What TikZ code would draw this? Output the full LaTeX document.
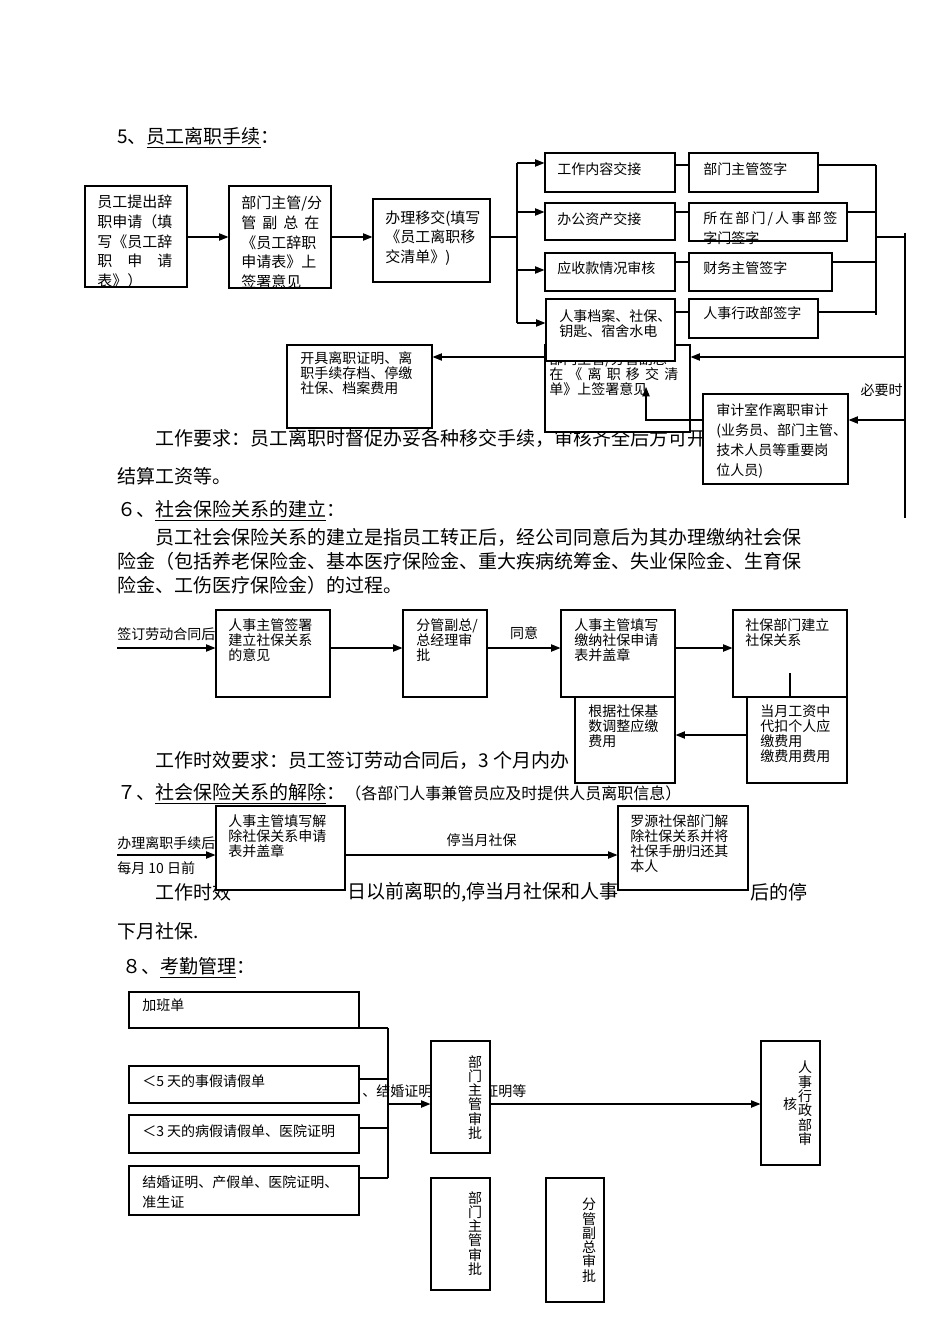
\documentclass[tikz,border=0pt]{standalone}
\usepackage{fontspec}
\setmainfont{Noto Sans CJK SC}
\usepackage{tikz}
\usetikzlibrary{positioning}
\usetikzlibrary{fit}
\usetikzlibrary{arrows.meta}
\newlength{\px}\setlength{\px}{0.75pt}
\newcommand{\jl}[2]{\makebox[#1\px][s]{#2}}
\tikzset{
  box/.style={draw, line width=0.9pt, fill=white, inner sep=0pt},
  txt/.style={inner sep=0pt, anchor=north west, align=left, font=\fontsize{11.25}{14.7}\selectfont},
  small/.style={inner sep=0pt, anchor=north west, align=left, font=\fontsize{10.5}{15}\selectfont},
  tight/.style={inner sep=0pt, anchor=north west, align=left, font=\fontsize{10.5}{11.3}\selectfont},
  vtxt/.style={inner sep=0pt, anchor=north, align=center, font=\fontsize{10.5}{10.7}\selectfont},
  body/.style={inner sep=0pt, anchor=west, font=\fontsize{14.25}{18}\selectfont},
  lbl/.style={inner sep=0pt, font=\fontsize{10.5}{12}\selectfont},
  arr/.style={-{Triangle[length=7pt,width=5.5pt]}, line width=0.8pt},
  link/.style={line width=0.8pt}
}
\begin{document}
\begin{tikzpicture}[x=0.75pt,y=-0.75pt]
        \fill[white] (0,0) rectangle (950,1344);
        \useasboundingbox (0,0) rectangle (950,1344);

        \node[body] (h5) at (117,138) {5、\underline{员工离职手续}：};
        \node[body] (req5) at (155,438) {工作要求：员工离职时督促办妥各种移交手续，审核齐全后方可开};
        \node[body] (req5b) at (117,476) {结算工资等。};
        \node[body] (h6) at (117,511) {６、\underline{社会保险关系的建立}：};
        \node[body] (p6a) at (155,537) {员工社会保险关系的建立是指员工转正后，经公司同意后为其办理缴纳社会保};
        \node[body] (p6b) at (117,561) {险金（包括养老保险金、基本医疗保险金、重大疾病统筹金、失业保险金、生育保};
        \node[body] (p6c) at (117,585) {险金、工伤医疗保险金）的过程。};
        \node[body] (req6) at (155,760) {工作时效要求：员工签订劳动合同后，3 个月内办};
        \node[body] (h7) at (117,794) {７、\underline{社会保险关系的解除}：{\fontsize{12}{14}\selectfont（各部门人事兼管员应及时提供人员离职信息）}};
        \node[body] (req7a) at (155,892) {工作时效};
        \node[body] (req7b) at (347,892) {日以前离职的,停当月社保和人事};
        \node[body] (req7c) at (750,892) {后的停};
        \node[body] (req7d) at (117,931) {下月社保.};
        \node[body] (h8) at (122,968) {８、\underline{考勤管理}：};

        % 5
        \node[box, fit={(85,186) (187,287)}] (quit) {};
        \begin{scope}
          \clip (quit.north west) rectangle (quit.south east);
          \node[txt] (quit-t) at (97,195) {员工提出辞\\职申请（填\\写《员工辞\\职　申　请\\表》）};
        \end{scope}
        \node[box, fit={(229,186) (331,288)}] (sign) {};
        \node[txt] (sign-t) at (241,196) {部门主管/分\\\jl{78}{管 副 总 在}\\《员工辞职\\申请表》上\\签署意见};
        \node[box, fit={(373,199) (490,282)}] (hand) {};
        \node[txt] (hand-t) at (385,210) {办理移交(填写\\《员工离职移\\交清单》)};
        \node[box, fit={(545,153) (675,192)}] (work) {};
        \node[small] (work-t) at (557,162) {工作内容交接};
        \node[box, fit={(545,203) (675,240)}] (asset) {};
        \node[small] (asset-t) at (557,212) {办公资产交接};
        \node[box, fit={(545,253) (675,291)}] (recv) {};
        \node[small] (recv-t) at (557,261) {应收款情况审核};
        \node[box, fit={(689,153) (818,192)}] (wsig) {};
        \node[small] (wsig-t) at (703,162) {部门主管签字};
        \node[box, fit={(689,203) (847,241)}] (asig) {};
        \node[small] (asig-t) at (703,211) {\jl{132}{所 在 部 门 / 人 事 部 签}\\字门签字};
        \node[box, fit={(689,253) (832,291)}] (fsig) {};
        \node[small] (fsig-t) at (703,261) {财务主管签字};
        \node[box, fit={(689,299) (818,338)}] (hsig) {};
        \node[small] (hsig-t) at (703,306) {人事行政部签字};
        \node[box, fit={(545,345) (690,432)}] (opin) {};
        \node[tight] (opin-t) at (549,352) {部门主管/分管副总\\\jl{129}{在 《 离 职 移 交 清}\\单》上签署意见};
        \node[box, fit={(546,299) (675,361)}] (file) {};
        \node[tight] (file-t) at (559,309) {人事档案、社保、\\钥匙、宿舍水电};
        \node[box, fit={(287,345) (432,428)}] (cert) {};
        \node[tight] (cert-t) at (300,351) {开具离职证明、离\\职手续存档、停缴\\社保、档案费用};
        \node[box, fit={(703,394) (848,484)}] (audit) {};
        \node[txt, font=\fontsize{10.5}{15}\selectfont] (audit-t) at (716,403) {审计室作离职审计\\(业务员、部门主管、\\技术人员等重要岗\\位人员)};

        \draw[arr] (quit.east |- 0,237) -- (sign.west |- 0,237);
        \draw[arr] (sign.east |- 0,237) -- (hand.west |- 0,237);
        \coordinate (fork) at (517,237);
        \coordinate (fork-t) at (517,163);
        \coordinate (fork-b) at (517,323);
        \coordinate (join) at (876,237);
        \coordinate (rail-t) at (905,233);
        \coordinate (rail-b) at (905,518);
        \coordinate (opin-in) at (646,387);
        \draw[link] (hand.east |- fork) -- (fork);
        \draw[link] (fork-t) -- (fork-b);
        \foreach \bx/\yy in {work/163, asset/212, recv/270, file/323}{
            \draw[arr] (fork |- 0,\yy) -- (\bx.west |- 0,\yy);
          }
        \foreach \bx/\sg/\yy in {work/wsig/165, asset/asig/212, recv/fsig/262, file/hsig/312}{
            \draw[link] (\bx.east |- 0,\yy) -- (\sg.west |- 0,\yy);
            \draw[link] (\sg.east |- 0,\yy) -- (join |- 0,\yy);
          }
        \draw[link] (join |- 0,165) -- (join |- 0,315);
        \draw[link] (join) -- (rail-t |- join);
        \draw[link] (rail-t) -- (rail-b);
        \draw[arr] (rail-t |- 0,357) -- (opin.east |- 0,357);
        \draw[arr] (opin.west |- 0,357) -- (cert.east |- 0,357);
        \draw[arr] (rail-t |- 0,420) -- (audit.east |- 0,420);
        \draw[arr] (audit.west |- 0,420) -| (opin-in);
        \node[lbl, anchor=east] (need) at (903,390) {必要时};

        % 6
        \node[box, fit={(216,610) (330,697)}] (hrsign) {};
        \node[tight] (hrsign-t) at (228,618) {人事主管签署\\建立社保关系\\的意见};
        \node[box, fit={(403,610) (487,697)}] (vpok) {};
        \node[tight] (vpok-t) at (416,618) {分管副总/\\总经理审\\批};
        \node[box, fit={(561,610) (675,697)}] (hrfill) {};
        \node[tight] (hrfill-t) at (574,618) {人事主管填写\\缴纳社保申请\\表并盖章};
        \node[box, fit={(733,610) (847,697)}] (sibuild) {};
        \node[tight] (sibuild-t) at (745,618) {社保部门建立\\社保关系};
        \node[box, fit={(575,697) (675,783)}] (adjust) {};
        \node[tight] (adjust-t) at (588,704) {根据社保基\\数调整应缴\\费用};
        \node[box, fit={(747,697) (847,783)}] (deduct) {};
        \node[tight] (deduct-t) at (760,704) {当月工资中\\代扣个人应\\缴费用\\缴费用费用};

        \coordinate (s6-in) at (117,648);
        \draw[arr] (s6-in) -- (hrsign.west |- s6-in);
        \node[lbl, anchor=west] (s6-lbl) at (117,634) {签订劳动合同后};
        \draw[arr] (hrsign.east |- s6-in) -- (vpok.west |- s6-in);
        \draw[arr] (vpok.east |- s6-in) -- (hrfill.west |- s6-in) node[lbl, midway, above=6pt] (agree) {同意};
        \draw[arr] (hrfill.east |- s6-in) -- (sibuild.west |- s6-in);
        \draw[link] (sibuild.south) -- ++(0,-25);
        \draw[arr] (deduct.west |- 0,735) -- (adjust.east |- 0,735);

        % 7
        \node[box, fit={(216,806) (345,890)}] (hrend) {};
        \node[tight] (hrend-t) at (228,814) {人事主管填写解\\除社保关系申请\\表并盖章};
        \node[box, fit={(618,806) (748,890)}] (luoyuan) {};
        \node[tight] (luoyuan-t) at (630,814) {罗源社保部门解\\除社保关系并将\\社保手册归还其\\本人};

        \coordinate (s7-in) at (117,855);
        \draw[arr] (s7-in) -- (hrend.west |- s7-in);
        \node[lbl, anchor=west] (s7-lbl) at (117,843) {办理离职手续后};
        \node[lbl, anchor=west] (s7-date) at (117,868) {每月 10 日前};
        \draw[arr] (hrend.east |- s7-in) -- (luoyuan.west |- s7-in) node[lbl, midway, above=6pt] (stop) {停当月社保};

        % 8
        \node[box, fit={(129,992) (359,1028)}] (ot) {};
        \node[small] (ot-t) at (142,998) {加班单};
        \node[box, fit={(129,1066) (359,1103)}] (leave5) {};
        \node[small] (leave5-t) at (142,1074) {＜5 天的事假请假单};
        \node[box, fit={(129,1115) (359,1153)}] (sick3) {};
        \node[small] (sick3-t) at (142,1124) {＜3 天的病假请假单、医院证明};
        \node[box, fit={(129,1166) (359,1215)}] (marry) {};
        \node[small] (marry-t) at (142,1175) {结婚证明、产假单、医院证明、\\准生证};
        \node[lbl, anchor=west] (docs-a) at (362,1091) {、结婚证明};
        \node[lbl, anchor=west] (docs-b) at (484,1091) {证明等};
        \node[box, fit={(431,1041) (490,1153)}] (deptA) {};
        \node[vtxt] (deptA-t) at (475,1055) {部\\门\\主\\管\\审\\批};
        \node[box, fit={(761,1041) (820,1165)}] (hrdept) {};
        \node[vtxt] (hrdept-t) at (805,1061) {人\\事\\行\\政\\部\\审};
        \node[vtxt, anchor=center] (hrdept-t2) at (790,1104) {核};
        \node[box, fit={(431,1178) (490,1290)}] (deptB) {};
        \node[vtxt] (deptB-t) at (475,1191) {部\\门\\主\\管\\审\\批};
        \node[box, fit={(546,1178) (604,1302)}] (vpB) {};
        \node[vtxt] (vpB-t) at (589,1198) {分\\管\\副\\总\\审\\批};

        \coordinate (s8-rail) at (388,1104);
        \foreach \bx/\yy in {ot/1028, leave5/1079, sick3/1128, marry/1178}{
            \draw[link] (\bx.east |- 0,\yy) -- (s8-rail |- 0,\yy);
          }
        \draw[link] (s8-rail |- 0,1028) -- (s8-rail |- 0,1178);
        \draw[arr] (s8-rail) -- (deptA.west |- s8-rail);
        \draw[arr] (deptA.east |- s8-rail) -- (hrdept.west |- s8-rail);
      \end{tikzpicture}
\end{document}
